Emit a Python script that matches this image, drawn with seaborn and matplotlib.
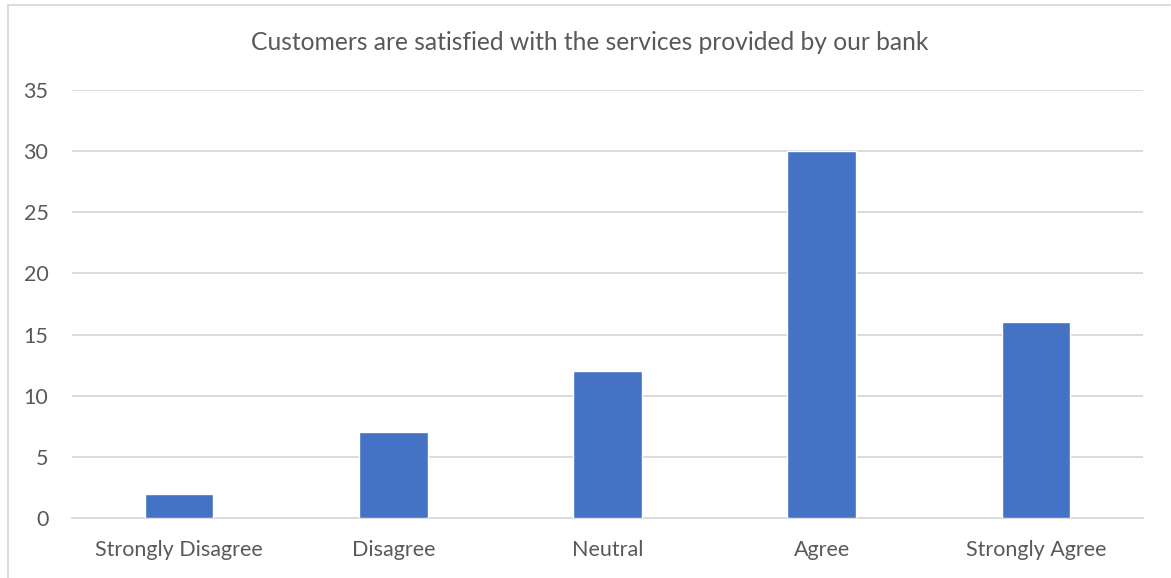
import matplotlib
matplotlib.use("Agg")
import matplotlib.pyplot as plt
from matplotlib.lines import Line2D
import seaborn as sns
import pandas as pd

categories = ["Strongly Disagree", "Disagree", "Neutral", "Agree", "Strongly Agree"]
counts = [2, 7, 12, 30, 16]
y_ticks = [0, 5, 10, 15, 20, 25, 30, 35]
title = "Customers are satisfied with the services provided by our bank"

sns.set_theme(style="white")
plt.rcParams["font.family"] = ["Lato", "DejaVu Sans"]

W, H = 1171, 578
fig = plt.figure(figsize=(W / 100, H / 100), dpi=100)
ax = fig.add_axes([72 / W, 1 - 518 / H, (1143 - 72) / W, (518 - 90) / H])

df = pd.DataFrame({"category": categories, "count": counts})
sns.barplot(data=df, x="category", y="count", color="#4472c4", width=0.32,
            saturation=1, ax=ax, zorder=3)

ax.set_ylim(0, 35)
ax.set_xlim(-0.5, len(categories) - 0.5)
ax.set_yticks(y_ticks)
ax.set_yticklabels([str(v) for v in y_ticks])
ax.yaxis.grid(True, color="#d9d9d9", linewidth=1.3, zorder=0)
ax.set_axisbelow(True)
for s in ["top", "right", "left"]:
    ax.spines[s].set_visible(False)
ax.spines["bottom"].set_color("#d9d9d9")
ax.spines["bottom"].set_linewidth(1.3)
ax.set_xlabel("")
ax.set_ylabel("")
ax.tick_params(axis="y", length=0, pad=17, labelsize=15.5, labelcolor="#595959")
ax.tick_params(axis="x", length=0, pad=16, labelsize=15.5, labelcolor="#595959")

fig.text(590 / W, 1 - 43 / H, title, ha="center", va="center",
         fontsize=17.7, color="#595959")

# chart area frame
fig.add_artist(Line2D([8 / W, 1170 / W], [1 - 5 / H, 1 - 5 / H], color="#d9d9d9", linewidth=1.3))
fig.add_artist(Line2D([8 / W, 8 / W], [1 - 5 / H, 0], color="#d9d9d9", linewidth=1.3))

fig.savefig("out.png", dpi=100, facecolor="white")
